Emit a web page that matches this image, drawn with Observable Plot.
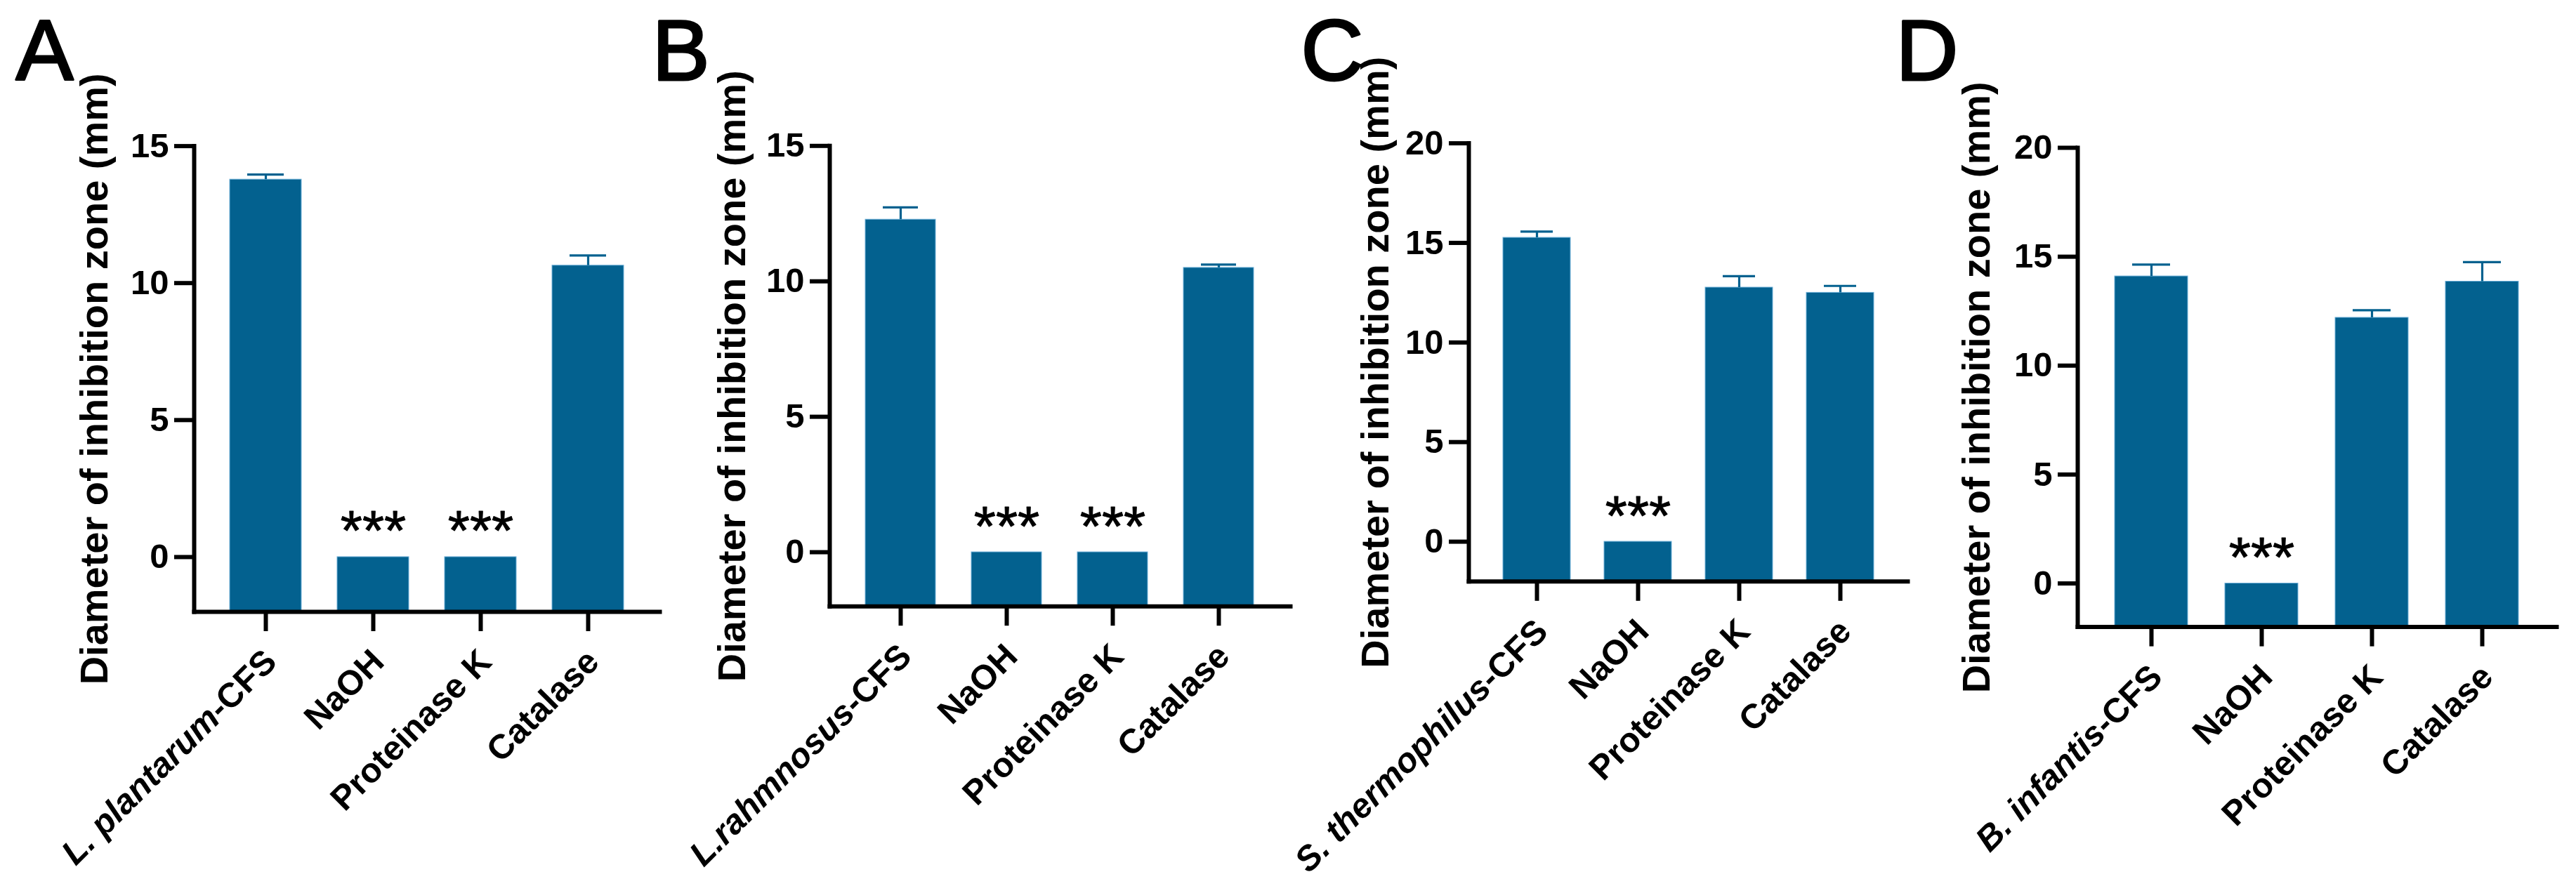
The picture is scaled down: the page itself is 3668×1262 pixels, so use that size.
<!DOCTYPE html>
<html><head><meta charset="utf-8">
<script src="https://cdn.jsdelivr.net/npm/d3@7"></script>
<script src="https://cdn.jsdelivr.net/npm/@observablehq/plot@0.6"></script>
<style>
html,body{margin:0;padding:0;background:#fff;}
#page{position:relative;width:3668px;height:1262px;overflow:hidden;background:#fff;}
.panel{position:absolute;top:0;}
.panel svg{overflow:visible;background:none;display:block;}
</style></head><body><div id="page"></div>
<script>
// ---- data ----
const panelLetters = ["A", "B", "C", "D"];
const species = ["L. plantarum", "L.rahmnosus", "S. thermophilus", "B. infantis"];
const suffix = "-CFS";
const treatments = ["NaOH", "Proteinase K", "Catalase"];
const meanA = [13.78, 0, 0, 10.64];
const sdA   = [0.18, 0, 0, 0.37];
const sigA  = ["", "***", "***", ""];
const meanB = [12.28, 0, 0, 10.5];
const sdB   = [0.45, 0, 0, 0.12];
const sigB  = ["", "***", "***", ""];
const meanC = [15.26, 0, 12.76, 12.5];
const sdC   = [0.31, 0, 0.57, 0.34];
const sigC  = ["", "***", "", ""];
const meanD = [14.1, 0, 12.2, 13.86];
const sdD   = [0.54, 0, 0.34, 0.89];
const sigD  = ["", "***", "", ""];
const yMin = -2;
const yMaxs = [15, 15, 20, 20];
const yTicks15 = [0, 5, 10, 15];
const yTicks20 = [0, 5, 10, 15, 20];
const yLabel = "Diameter of inhibition zone (mm)";

const means = [meanA, meanB, meanC, meanD];
const sds = [sdA, sdB, sdC, sdD];
const sigs = [sigA, sigB, sigC, sigD];
const yTicks = [yTicks15, yTicks15, yTicks20, yTicks20];

// ---- layout / style ----
const layout = [
  {left: 0,    width: 960, axisX: 276,  endX: 939,  top: 207.6, bottom: 871,   labelDx: -124, letterX: 22},
  {left: 920,  width: 940, axisX: 1181, endX: 1837, top: 207.3, bottom: 863.2, labelDx: -121, letterX: 928},
  {left: 1840, width: 900, axisX: 2091, endX: 2716, top: 203.6, bottom: 827.8, labelDx: -115, letterX: 1852},
  {left: 2690, width: 978, axisX: 2958, endX: 3640, top: 210,   bottom: 892.6, labelDx: -126, letterX: 2699}
];
const H = 1262;
const barColor = "#03618f";
const barEdge = "#6fb0d8";
const font = "'Liberation Sans', Arial, Helvetica, sans-serif";

const page = document.getElementById("page");

layout.forEach((L, i) => {
  const cats = [species[i] + suffix, ...treatments];
  const rows = cats.map((c, j) => ({cat: c, mean: means[i][j], sd: sds[i][j], sig: sigs[i][j]}));
  const errRows = rows.filter(d => d.sd > 0);
  const sigRows = rows.filter(d => d.sig);

  const svg = Plot.plot({
    width: L.width,
    height: H,
    marginLeft: L.axisX - L.left,
    marginRight: L.left + L.width - L.endX,
    marginTop: L.top,
    marginBottom: H - L.bottom,
    style: {fontFamily: font, background: "none", overflow: "visible"},
    x: {domain: cats, paddingInner: 0.335, paddingOuter: 0.33},
    y: {domain: [yMin, yMaxs[i]]},
    marks: [
      Plot.barY(rows, {x: "cat", y1: yMin, y2: "mean", fill: barColor, stroke: barEdge, strokeWidth: 1}),
      Plot.ruleX(errRows, {x: "cat", y1: "mean", y2: d => d.mean + d.sd, stroke: barColor, strokeWidth: 3.2}),
      Plot.tickY(errRows, {x: "cat", y: d => d.mean + d.sd, stroke: barColor, strokeWidth: 3.2, insetLeft: 25, insetRight: 25}),
      Plot.text(sigRows, {x: "cat", y: 0, text: "sig", fontSize: 80, lineAnchor: "bottom", dy: -10, fill: "black", stroke: "black", strokeWidth: 1}),
      Plot.axisY({ticks: yTicks[i], tickSize: 28, tickPadding: 8, fontSize: 49, fontWeight: "bold", strokeWidth: 6, label: null, fill: "black", stroke: "black"}),
      Plot.axisX({tickSize: 28, strokeWidth: 6, tickFormat: () => "", label: null, stroke: "black"}),
      Plot.frame({anchor: "left", stroke: "black", strokeWidth: 6, strokeLinecap: "square"}),
      Plot.frame({anchor: "bottom", stroke: "black", strokeWidth: 6, strokeLinecap: "square"}),
      Plot.text(cats, {x: d => d, frameAnchor: "bottom", text: d => d, rotate: -45, textAnchor: "end", lineAnchor: "bottom", dx: 18, dy: 74, fontSize: 49, fontWeight: "bold", fill: "black"}),
      Plot.text([yLabel], {frameAnchor: "left", text: d => d, rotate: -90, textAnchor: "middle", lineAnchor: "bottom", dx: L.labelDx, fontSize: 56, fontWeight: "bold", fill: "black"}),
      Plot.text([panelLetters[i]], {frameAnchor: "top-left", text: d => d, textAnchor: "start", lineAnchor: "bottom", dx: L.letterX - L.axisX, dy: 113 - L.top, fontSize: 123, fill: "black", stroke: "black", strokeWidth: 3})
    ]
  });

  // italicise the species part of the first tick label
  svg.querySelectorAll("text").forEach(t => {
    if (t.textContent === species[i] + suffix) {
      t.textContent = "";
      const ns = "http://www.w3.org/2000/svg";
      const a = document.createElementNS(ns, "tspan");
      a.setAttribute("font-style", "italic");
      a.textContent = species[i];
      const b = document.createElementNS(ns, "tspan");
      b.textContent = suffix;
      t.appendChild(a);
      t.appendChild(b);
    }
  });

  const div = document.createElement("div");
  div.className = "panel";
  div.style.left = L.left + "px";
  div.style.width = L.width + "px";
  div.appendChild(svg);
  page.appendChild(div);
});
</script>
</body></html>
